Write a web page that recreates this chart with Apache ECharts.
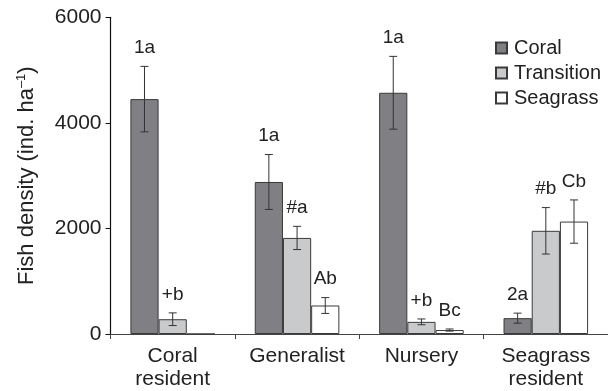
<!DOCTYPE html>
<html>
<head>
<meta charset="utf-8">
<script src="https://cdn.jsdelivr.net/npm/echarts@6/dist/echarts.min.js"></script>
<style>
  html, body { margin: 0; padding: 0; background: #fff; }
  #chart { width: 608px; height: 391px; }
</style>
</head>
<body>
<div id="chart"></div>
<script>
// Fish density per habitat, by guild (mean ± SE)
const categories = ['Coral\nresident', 'Generalist', 'Nursery', 'Seagrass\nresident'];
const seriesNames = ['Coral', 'Transition', 'Seagrass'];

const coral = [4450, 2880, 4570, 300];
const coralErr = [620, 520, 690, 95];
const coralLabels = ['1a', '1a', '1a', '2a'];

const transition = [280, 1820, 230, 1955];
const transitionErr = [120, 220, 55, 440];
const transitionLabels = ['+b', '#a', '+b', '#b'];

const seagrass = [0, 540, 75, 2130];
const seagrassErr = [0, 150, 20, 410];
const seagrassLabels = ['', 'Ab', 'Bc', 'Cb'];

const yTicks = [0, 2000, 4000, 6000];

const FONT = '"Liberation Sans", Arial, Helvetica, sans-serif';
const colors = ['#808084', '#c9cacc', '#ffffff'];
const CAT_GAP = 0.32;

const chart = echarts.init(document.getElementById('chart'), null, { renderer: 'canvas' });

function barSeries(name, values, color) {
  return {
    name: name,
    type: 'bar',
    data: values,
    barGap: 0,
    barCategoryGap: (CAT_GAP * 100) + '%',
    itemStyle: { color: color, borderColor: '#3a3a3a', borderWidth: 1 },
    silent: true,
    z: 2
  };
}

// Error bars and significance letters, drawn over each bar
function errorSeries(idx, values, errs, labels) {
  const data = values.map((v, i) => [i, v, errs[i], labels[i]]);
  return {
    type: 'custom',
    name: seriesNames[idx] + ' err',
    z: 5,
    silent: true,
    data: data,
    renderItem: function (params, api) {
      const ci = api.value(0);
      const v = api.value(1);
      const e = api.value(2);
      const lab = data[params.dataIndex][3];
      const band = api.size([1, 0])[0];
      const barW = band * (1 - CAT_GAP) / 3;
      const center = api.coord([ci, v]);
      const x = center[0] + (idx - 1) * barW;
      const top = api.coord([ci, v + e])[1];
      const bot = api.coord([ci, v - e])[1];
      const cap = 4;
      const style = { stroke: '#333', lineWidth: 1 };
      const children = [];
      if (e > 0) {
        children.push(
          { type: 'line', shape: { x1: x, y1: top, x2: x, y2: bot }, style: style },
          { type: 'line', shape: { x1: x - cap, y1: top, x2: x + cap, y2: top }, style: style },
          { type: 'line', shape: { x1: x - cap, y1: bot, x2: x + cap, y2: bot }, style: style }
        );
      }
      if (lab) {
        children.push({
          type: 'text',
          style: {
            x: x, y: top - 9,
            text: lab,
            fill: '#222',
            font: '19px ' + FONT,
            textAlign: 'center',
            textVerticalAlign: 'bottom'
          }
        });
      }
      return { type: 'group', children: children };
    }
  };
}

const option = {
  animation: false,
  backgroundColor: '#fff',
  textStyle: { fontFamily: FONT },
  grid: { left: 110.5, right: -2.5, top: 17.3, bottom: 55.7, containLabel: false },
  legend: {
    orient: 'vertical',
    left: 490,
    top: 33,
    itemWidth: 11,
    itemHeight: 11,
    itemGap: 5,
    icon: 'rect',
    data: seriesNames,
    selectedMode: false,
    textStyle: { fontSize: 20, color: '#222', fontFamily: FONT, padding: [0, 0, 0, 2] }
  },
  xAxis: {
    type: 'category',
    data: categories,
    axisLine: { show: true, lineStyle: { color: '#444', width: 1 } },
    axisTick: { show: true, length: 5, lineStyle: { color: '#444' } },
    axisLabel: { fontSize: 21, color: '#222', lineHeight: 23, margin: 11, fontFamily: FONT, interval: 0 },
    splitLine: { show: false }
  },
  yAxis: {
    type: 'value',
    min: yTicks[0],
    max: yTicks[yTicks.length - 1],
    interval: 2000,
    axisLine: { show: true, lineStyle: { color: '#111', width: 1.2 } },
    axisTick: { show: true, length: 5, lineStyle: { color: '#111' } },
    axisLabel: { fontSize: 21, color: '#222', margin: 9, fontFamily: FONT, formatter: (v) => String(v) },
    splitLine: { show: false },
    name: '{m|Fish density (ind. ha}{s|–1}{m|)}',
    nameLocation: 'middle',
    nameRotate: 90,
    nameGap: 72,
    nameTextStyle: {
      rich: {
        m: { fontSize: 22, color: '#222', fontFamily: FONT, lineHeight: 24 },
        s: { fontSize: 13, color: '#222', fontFamily: FONT, lineHeight: 24, verticalAlign: 'top', padding: [0, 0, 10, 0] }
      }
    }
  },
  series: [
    barSeries('Coral', coral, colors[0]),
    barSeries('Transition', transition, colors[1]),
    barSeries('Seagrass', seagrass, colors[2]),
    errorSeries(0, coral, coralErr, coralLabels),
    errorSeries(1, transition, transitionErr, transitionLabels),
    errorSeries(2, seagrass, seagrassErr, seagrassLabels)
  ]
};

chart.setOption(option);
</script>
</body>
</html>
